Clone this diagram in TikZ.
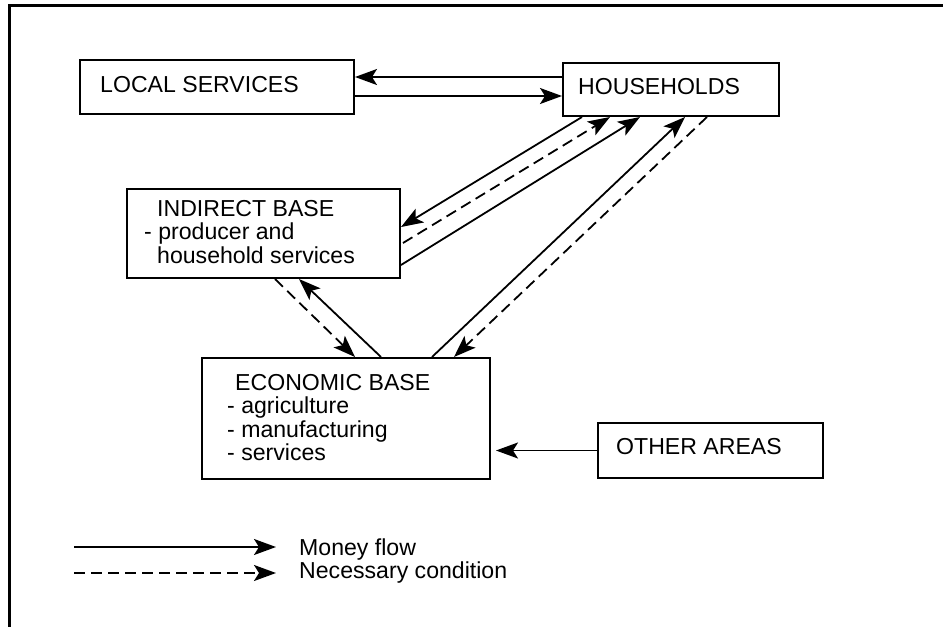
\documentclass[tikz,border=0pt]{standalone}
\usepackage{fontspec}
\setmainfont{Liberation Sans}
\usetikzlibrary{arrows.meta}

\begin{document}
\begin{tikzpicture}[x=1pt, y=-1pt, line join=miter,
  box/.style={draw, line width=2pt, anchor=north west, inner sep=0pt},
  txt/.style={anchor=base west, inner sep=0pt, align=left, font=\fontsize{23.1}{23.5}\selectfont},
  money/.style={line width=1.8pt, -{Stealth[length=22pt, width=16pt, inset=5pt]}},
  need/.style={money, dash pattern=on 11pt off 6pt}]

  %% ════ 外框（只有上边和左边）════
  \draw[line width=3pt] (943,5.5) -- (9.5,5.5) -- (9.5,627);

  %% ════ 方框 ════
  \node[box, minimum width=274pt, minimum height=54pt]  (local) at (79,59)   {};
  \node[box, minimum width=216pt, minimum height=53pt]  (hh)    at (562,62)  {};
  \node[box, minimum width=273pt, minimum height=89pt]  (ind)   at (126,188) {};
  \node[box, minimum width=288pt, minimum height=121pt] (eco)   at (201,357) {};
  \node[box, minimum width=225pt, minimum height=55pt]  (other) at (597,422) {};

  %% ════ 文字（多行时 base 是最后一行的基线）════
  \node[txt] (localtxt) at (100,92.3) {LOCAL SERVICES};
  \node[txt] (hhtxt)    at (578,94)   {HOUSEHOLDS};
  \node[txt] (indtxt)   at (144,263)  {\hspace*{13pt}INDIRECT BASE\\- producer and\\\hspace*{13pt}household services};
  \node[txt] (ecotxt)   at (227,460.5) {\hspace*{8pt}ECONOMIC BASE\\- agriculture\\- manufacturing\\- services};
  \node[txt] (othertxt) at (616,454)  {OTHER AREAS};

  %% ════ 箭头 ════
  \draw[money] ([yshift=-15pt]hh.north west) -- ([yshift=-15pt]hh.north west -| local.east);
  \draw[money] ([yshift=19pt]local.south east) -- ([yshift=19pt]local.south east -| hh.west);
  \draw[money] ([xshift=20pt]hh.south west) -- ([yshift=-39pt]ind.north east);
  \draw[need]  ([xshift=2pt,yshift=-55pt]ind.north east) -- ([xshift=48pt]hh.south west);
  \draw[money] ([yshift=14pt]ind.south east) -- ([xshift=78pt]hh.south west);
  \draw[money] ([xshift=231pt]eco.north west) -- ([xshift=123pt]hh.south west);
  \draw[need]  ([xshift=145pt]hh.south west) -- ([xshift=253pt]eco.north west);
  \draw[need]  ([xshift=149pt]ind.south west) -- ([xshift=154pt]eco.north west);
  \draw[money] ([xshift=180pt]eco.north west) -- ([xshift=173pt]ind.south west);
  \draw[money] (other.west) -- ([xshift=5pt]eco.east |- other.west);

  %% ════ 图例 ════
  \coordinate (m0) at (74,547);
  \coordinate (m1) at (276,547);
  \coordinate (n0) at (74,573);
  \coordinate (n1) at (276,573);
  \draw[money] (m0) -- (m1);
  \draw[need]  (n0) -- (n1);
  \node[txt] (mflow) at (299,555) {Money flow};
  \node[txt] (ncond) at (299,578) {Necessary condition};

  % 钉死画布
  \pgfresetboundingbox
  \path[use as bounding box] (0,0) rectangle (943,627);
\end{tikzpicture}
\end{document}
